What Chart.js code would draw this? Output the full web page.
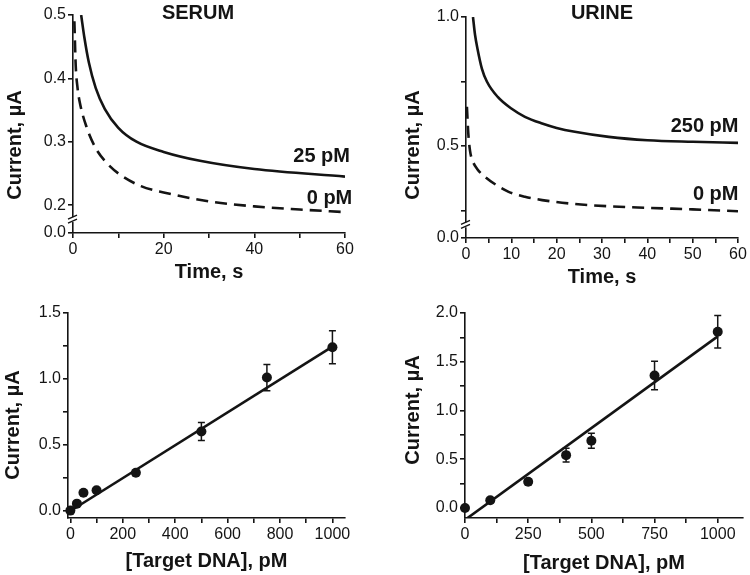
<!DOCTYPE html>
<html>
<head>
<meta charset="utf-8">
<script src="https://cdn.jsdelivr.net/npm/chart.js@4.4.1/dist/chart.umd.min.js"></script>
<style>
  html, body { margin: 0; padding: 0; background: #fff; }
  #wrap { position: relative; width: 750px; height: 575px; }
  canvas { position: absolute; }
</style>
</head>
<body>
<div id="wrap">
  <canvas id="serumTime" width="375" height="290" style="left:0;top:0"></canvas>
  <canvas id="urineTime" width="375" height="290" style="left:375px;top:0"></canvas>
  <canvas id="serumCal" width="375" height="285" style="left:0;top:290px"></canvas>
  <canvas id="urineCal" width="375" height="285" style="left:375px;top:290px"></canvas>
</div>
<script>
// chronoamperometry, serum
const serum25T = [1.8, 2.5, 3.5, 5, 7, 10, 14, 20, 28, 40, 60];
const serum25I = [0.5, 0.465, 0.425, 0.385, 0.352, 0.322, 0.300, 0.284, 0.27, 0.257, 0.245];
const serum0T = [0.3, 0.6, 1.0, 1.5, 3, 5, 7, 10, 15, 20, 30, 40, 50, 60];
const serum0I = [0.49, 0.42, 0.385, 0.362, 0.323, 0.29, 0.27, 0.25, 0.23, 0.22, 0.206, 0.198, 0.193, 0.189];

// chronoamperometry, urine
const urine250T = [1.54, 2, 2.5, 3.5, 4.6, 7, 10, 13, 16.8, 20, 24, 31.5, 40, 50, 60];
const urine250I = [1.0, 0.93, 0.88, 0.80, 0.75, 0.69, 0.645, 0.613, 0.587, 0.57, 0.555, 0.535, 0.522, 0.516, 0.512];
const urine0T = [0.2, 0.5, 0.9, 1.4, 2.5, 4.3, 7, 9.4, 13, 16.8, 24, 31.5, 40, 50, 60];
const urine0I = [0.652, 0.55, 0.48, 0.445, 0.41, 0.379, 0.345, 0.322, 0.303, 0.29, 0.275, 0.266, 0.26, 0.254, 0.247];

// calibration, serum
const serumConc = [0, 25, 50, 100, 250, 500, 750, 1000];
const serumCurrent = [0.0, 0.053, 0.135, 0.155, 0.287, 0.60, 1.01, 1.24];
const serumErr = [0.01, 0.01, 0.015, 0.015, 0.02, 0.068, 0.10, 0.125];
const serumFitX = [0, 1000];
const serumFitY = [-0.003, 1.245];

// calibration, urine
const urineConc = [0, 100, 250, 400, 500, 750, 1000];
const urineCurrent = [0.0, 0.079, 0.268, 0.542, 0.69, 1.358, 1.808];
const urineErr = [0.01, 0.02, 0.03, 0.07, 0.077, 0.146, 0.166];
const urineFitX = [0, 1000];
const urineFitY = [-0.122, 1.76];

// ticks (first y tick of the top panels sits below the axis break)
const serumTimeXTicks = [0, 10, 20, 30, 40, 50, 60];
const serumTimeXLabels = ['0', '', '20', '', '40', '', '60'];
const serumTimeYTicks = [0.156, 0.2, 0.3, 0.4, 0.5];
const serumTimeYLabels = ['0.0', '0.2', '0.3', '0.4', '0.5'];
const urineTimeXTicks = [0, 5, 10, 15, 20, 25, 30, 35, 40, 45, 50, 55, 60];
const urineTimeXLabels = ['0', '', '10', '', '20', '', '30', '', '40', '', '50', '', '60'];
const urineTimeYTicks = [0.143, 0.25, 0.5, 0.75, 1.0];
const urineTimeYLabels = ['0.0', '', '0.5', '', '1.0'];
const serumCalXTicks = [0, 100, 200, 300, 400, 500, 600, 700, 800, 900, 1000];
const serumCalXLabels = ['0', '', '200', '', '400', '', '600', '', '800', '', '1000'];
const serumCalYTicks = [0, 0.25, 0.5, 0.75, 1.0, 1.25, 1.5];
const serumCalYLabels = ['0.0', '', '0.5', '', '1.0', '', '1.5'];
const urineCalXTicks = [0, 125, 250, 375, 500, 625, 750, 875, 1000];
const urineCalXLabels = ['0', '', '250', '', '500', '', '750', '', '1000'];
const urineCalYTicks = [0, 0.25, 0.5, 0.75, 1.0, 1.25, 1.5, 1.75, 2.0];
const urineCalYLabels = ['0.0', '', '0.5', '', '1.0', '', '1.5', '', '2.0'];

const INK = '#141414';
Chart.defaults.font.family = '"Liberation Sans", Arial, sans-serif';
Chart.defaults.color = INK;

const toXY = (xs, ys) => xs.map((x, i) => ({x: x, y: ys[i]}));

function axis(min, max, ticks, labels, size, title, titlePad) {
  return {
    type: 'linear',
    min: min,
    max: max,
    afterBuildTicks: scale => { scale.ticks = ticks.map(v => ({value: v})); },
    afterFit: scale => {
      if (scale.isHorizontal()) scale.height = size; else scale.width = size;
    },
    border: {display: true, color: INK, width: 1.6},
    grid: {drawOnChartArea: false, drawTicks: true, tickLength: 5, color: INK, lineWidth: 1.6},
    ticks: {autoSkip: false, maxRotation: 0, padding: 2, color: INK, font: {size: 16},
            callback: (v, i) => labels[i]},
    title: title ? {display: true, text: title, color: INK, font: {size: 20, weight: 'bold'},
                    padding: {top: 0, bottom: titlePad}} : {display: false}
  };
}

function curve(xs, ys, dash) {
  return {data: toXY(xs, ys), showLine: true, pointRadius: 0, borderColor: INK,
          borderWidth: 2.6, borderDash: dash, cubicInterpolationMode: 'monotone'};
}

function points(xs, ys, errs) {
  return {data: toXY(xs, ys), errors: errs, showLine: false, pointRadius: 5,
          backgroundColor: INK, borderColor: INK, borderWidth: 0, clip: false};
}

// texts: panel titles, y titles (pixel), curve labels (data coords)
function textLayer(items) {
  return {
    id: 'textLayer',
    afterDraw(chart) {
      const ctx = chart.ctx;
      items.forEach(t => {
        let px = t.px, py = t.py;
        if (t.dataX !== undefined) {
          px = chart.scales.x.getPixelForValue(t.dataX);
          py = chart.scales.y.getPixelForValue(t.dataY);
        }
        ctx.save();
        ctx.font = 'bold 20px "Liberation Sans", Arial, sans-serif';
        ctx.fillStyle = INK;
        ctx.textAlign = t.align || 'center';
        ctx.textBaseline = 'middle';
        ctx.translate(px, py);
        if (t.rotate) ctx.rotate(-Math.PI / 2);
        ctx.fillText(t.text, 0, 0);
        ctx.restore();
      });
    }
  };
}

function axisBreak(value) {
  return {
    id: 'axisBreak',
    afterDraw(chart) {
      const ctx = chart.ctx;
      const x = chart.chartArea.left;
      const y = chart.scales.y.getPixelForValue(value);
      ctx.save();
      ctx.fillStyle = '#fff';
      ctx.fillRect(x - 2, y - 2, 4, 5);
      ctx.strokeStyle = INK;
      ctx.lineWidth = 1.4;
      ctx.beginPath();
      ctx.moveTo(x - 5, y); ctx.lineTo(x + 4, y - 4);
      ctx.moveTo(x - 5, y + 4); ctx.lineTo(x + 4, y);
      ctx.stroke();
      ctx.restore();
    }
  };
}

const errorBars = {
  id: 'errorBars',
  afterDatasetsDraw(chart) {
    const ctx = chart.ctx, xs = chart.scales.x, ys = chart.scales.y;
    chart.data.datasets.forEach(ds => {
      if (!ds.errors) return;
      ds.data.forEach((p, i) => {
        const e = ds.errors[i];
        const x = xs.getPixelForValue(p.x);
        const y1 = ys.getPixelForValue(p.y - e), y2 = ys.getPixelForValue(p.y + e);
        ctx.save();
        ctx.strokeStyle = INK;
        ctx.lineWidth = 1.5;
        ctx.beginPath();
        ctx.moveTo(x, y1); ctx.lineTo(x, y2);
        ctx.moveTo(x - 3.5, y1); ctx.lineTo(x + 3.5, y1);
        ctx.moveTo(x - 3.5, y2); ctx.lineTo(x + 3.5, y2);
        ctx.stroke();
        ctx.restore();
      });
    });
  }
};

function panel(id, datasets, padding, xAxis, yAxis, extraPlugins) {
  return new Chart(document.getElementById(id), {
    type: 'scatter',
    data: {datasets: datasets},
    options: {
      responsive: false,
      animation: false,
      layout: {padding: padding},
      plugins: {legend: {display: false}, tooltip: {enabled: false}},
      scales: {x: xAxis, y: yAxis}
    },
    plugins: extraPlugins
  });
}

panel('serumTime',
  [curve(serum25T, serum25I, []), curve(serum0T, serum0I, [12, 7])],
  {top: 15, right: 30, left: 0, bottom: 0},
  axis(0, 60, serumTimeXTicks, serumTimeXLabels, 57, 'Time, s', 6),
  axis(0.156, 0.5, serumTimeYTicks, serumTimeYLabels, 73),
  [axisBreak(0.178), textLayer([
    {text: 'SERUM', px: 198, py: 13},
    {text: 'Current, µA', px: 15, py: 145, rotate: true},
    {text: '25 pM', dataX: 61.1, dataY: 0.276, align: 'right'},
    {text: '0 pM', dataX: 61.6, dataY: 0.211, align: 'right'}
  ])]);

panel('urineTime',
  [curve(urine250T, urine250I, []), curve(urine0T, urine0I, [12, 7])],
  {top: 17, right: 12, left: 0, bottom: 0},
  axis(0, 60, urineTimeXTicks, urineTimeXLabels, 52, 'Time, s', 1),
  axis(0.143, 1.0, urineTimeYTicks, urineTimeYLabels, 91),
  [axisBreak(0.196), textLayer([
    {text: 'URINE', px: 227, py: 13},
    {text: 'Current, µA', px: 38, py: 145, rotate: true},
    {text: '250 pM', dataX: 60.1, dataY: 0.574, align: 'right'},
    {text: '0 pM', dataX: 60.1, dataY: 0.31, align: 'right'}
  ])]);

panel('serumCal',
  [points(serumConc, serumCurrent, serumErr),
   {data: toXY(serumFitX, serumFitY), showLine: true, pointRadius: 0, borderColor: INK, borderWidth: 2.6}],
  {top: 23, right: 30, left: 0, bottom: 0},
  axis(-9, 1048, serumCalXTicks, serumCalXLabels, 57, '[Target DNA], pM', 2),
  axis(-0.056, 1.5, serumCalYTicks, serumCalYLabels, 68),
  [errorBars, textLayer([
    {text: 'Current, µA', px: 13, py: 135, rotate: true}
  ])]);

panel('urineCal',
  [points(urineConc, urineCurrent, urineErr),
   {data: toXY(urineFitX, urineFitY), showLine: true, pointRadius: 0, borderColor: INK, borderWidth: 2.6}],
  {top: 23, right: 7, left: 0, bottom: 0},
  axis(0, 1100, urineCalXTicks, urineCalXLabels, 57, '[Target DNA], pM', 0),
  axis(-0.103, 2.0, urineCalYTicks, urineCalYLabels, 90),
  [errorBars, textLayer([
    {text: 'Current, µA', px: 38, py: 120, rotate: true}
  ])]);
</script>
</body>
</html>
